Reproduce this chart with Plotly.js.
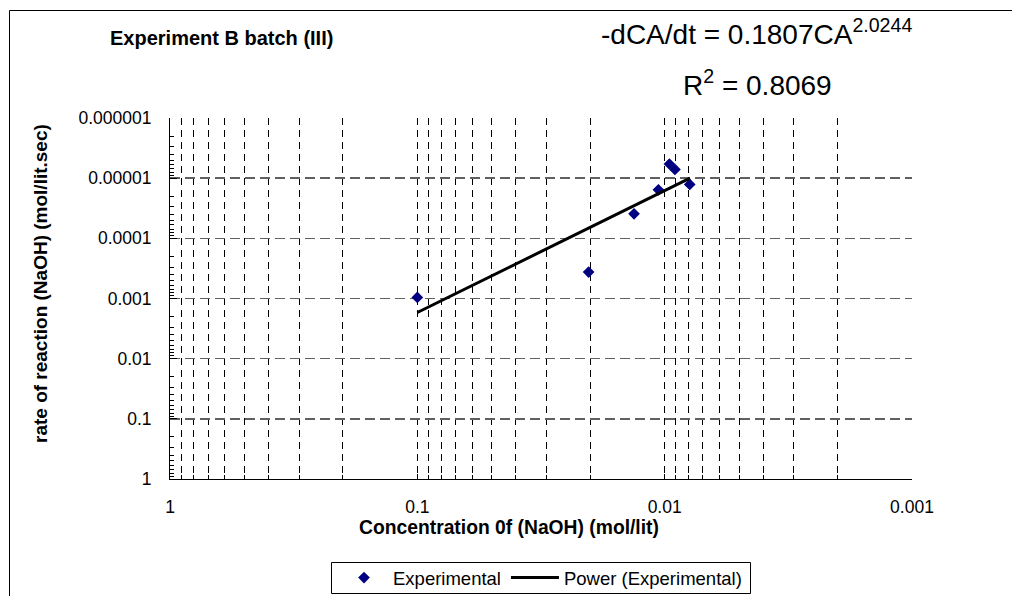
<!DOCTYPE html>
<html><head><meta charset="utf-8">
<script src="https://cdn.plot.ly/plotly-3.0.1.min.js"></script>
<style>html,body{margin:0;padding:0;background:#fff}#chart{width:1012px;height:596px}</style>
</head><body><div id="chart"></div>
<script>
const concentration = [0.1, 0.0203, 0.0133, 0.0106, 0.00957, 0.00909, 0.00792];
const rate = [0.00096, 0.000364, 0.0000391, 0.0000156, 0.00000582, 0.00000716, 0.0000127];
// Power trendline end points
const trendConcentration = [0.1, 0.0079];
const trendRate = [0.00171, 0.0000100];
// Tick labels
const xTickVals = [1, 0.1, 0.01, 0.001];
const xTickText = ['1', '0.1', '0.01', '0.001'];
const yTickVals = [1, 0.1, 0.01, 0.001, 0.0001, 0.00001, 0.000001];
const yTickText = ['1', '0.1', '0.01', '0.001', '0.0001', '0.00001', '0.000001'];

const FONT = 'Liberation Sans, Arial, sans-serif';
const px = v => (v - 170) / 742;   // pixel x -> paper
const py = v => (479 - v) / 361;   // pixel y -> paper

const traces = [
  {x: concentration, y: rate, type: 'scatter', mode: 'markers', name: 'Experimental',
   marker: {symbol: 'diamond', size: 9, color: '#000080'}},
  {x: trendConcentration, y: trendRate, type: 'scatter', mode: 'lines', name: 'Power (Experimental)',
   line: {color: '#000', width: 3}}
];

const layout = {
  width: 1012, height: 596,
  margin: {l: 170, r: 100, t: 118, b: 117, autoexpand: false},
  paper_bgcolor: '#fff', plot_bgcolor: '#fff',
  font: {family: FONT, color: '#000', size: 17.5},
  title: {text: 'Experiment B batch (III)', xref: 'container', yref: 'container',
          x: 110/1012, xanchor: 'left', y: 1 - 38/596, yanchor: 'middle',
          font: {family: FONT, size: 20, weight: 700, color: '#000'}},
  xaxis: {type: 'log', range: [0, -3], tickmode: 'array', tickvals: xTickVals, ticktext: xTickText,
          showline: true, linecolor: '#000', linewidth: 1, ticks: 'inside', ticklen: 5, tickcolor: '#000',
          showgrid: true, gridcolor: '#000', gridwidth: 1, griddash: '7px,5px', zeroline: false,
          ticklabelstandoff: 12, tickfont: {family: FONT, size: 17.5, color: '#000'},
          minor: {dtick: 'D1', ticks: 'inside', ticklen: 4, tickcolor: '#000', showgrid: true,
                  gridcolor: '#000', gridwidth: 1, griddash: '7px,5px'}},
  yaxis: {type: 'log', range: [0, -6], tickmode: 'array', tickvals: yTickVals, ticktext: yTickText,
          showline: true, linecolor: '#000', linewidth: 1, ticks: 'inside', ticklen: 7, tickcolor: '#000',
          showgrid: true, gridcolor: '#606060', gridwidth: 1.5, griddash: '10px,5px', zeroline: false,
          ticklabelstandoff: 14, tickfont: {family: FONT, size: 17.5, color: '#000'},
          minor: {dtick: 'D1', ticks: 'inside', ticklen: 4, tickcolor: '#000', showgrid: false}},
  showlegend: true,
  legend: {orientation: 'h', x: px(541), xanchor: 'center', y: py(578), yanchor: 'middle',
           borderwidth: 0, bgcolor: 'rgba(0,0,0,0)',
           font: {family: FONT, size: 18.5, color: '#000'}, itemwidth: 48},
  annotations: [
    {text: '-dCA/dt = 0.1807CA<sup>2.0244</sup>', xref: 'paper', yref: 'paper',
     x: px(756), y: py(32), xanchor: 'center', yanchor: 'middle', showarrow: false,
     font: {family: FONT, size: 28, color: '#000'}},
    {text: 'R<sup>2</sup> = 0.8069', xref: 'paper', yref: 'paper',
     x: px(757.5), y: py(83), xanchor: 'center', yanchor: 'middle', showarrow: false,
     font: {family: FONT, size: 28, color: '#000'}},
    {text: 'Concentration 0f (NaOH) (mol/lit)', xref: 'paper', yref: 'paper',
     x: px(509), y: py(527), xanchor: 'center', yanchor: 'middle', showarrow: false,
     font: {family: FONT, size: 19.3, weight: 700, color: '#000'}},
    {text: 'rate of reaction (NaOH) (mol/lit.sec)', xref: 'paper', yref: 'paper', textangle: -90,
     x: px(40), y: py(284), xanchor: 'center', yanchor: 'middle', showarrow: false,
     font: {family: FONT, size: 19, weight: 700, color: '#000'}}
  ],
  shapes: [
    {type: 'rect', xref: 'paper', yref: 'paper', x0: px(9.5), x1: px(1030),
     y0: py(620), y1: py(10.5), line: {color: '#000', width: 1}, fillcolor: 'rgba(0,0,0,0)', layer: 'below'},
    {type: 'rect', xref: 'paper', yref: 'paper', x0: px(331.5), x1: px(750.5),
     y0: py(593.5), y1: py(562.5), line: {color: '#000', width: 1}, fillcolor: 'rgba(0,0,0,0)', layer: 'above'}
  ]
};

Plotly.newPlot('chart', traces, layout, {displayModeBar: false, staticPlot: true});
</script></body></html>
